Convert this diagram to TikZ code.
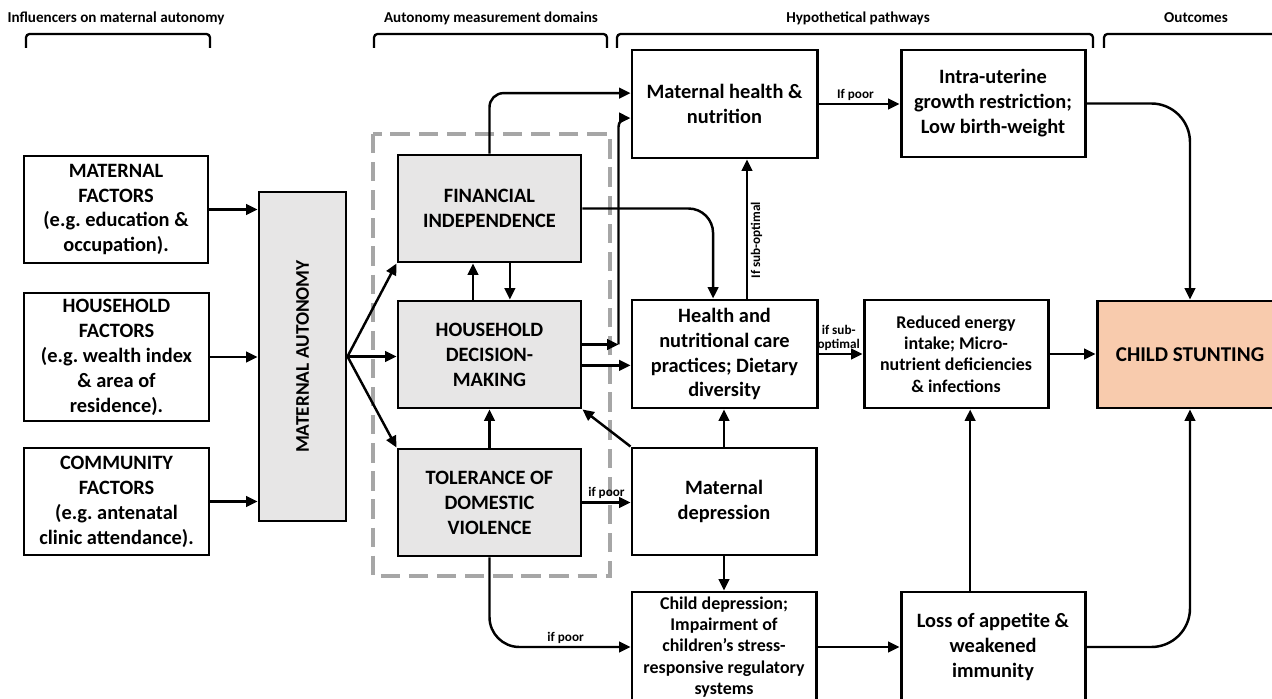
\documentclass[tikz,border=0pt]{standalone}
\usepackage{fontspec}
\setmainfont{Carlito}
\usetikzlibrary{arrows.meta}
\frenchspacing

\definecolor{domaingrey}{HTML}{E7E6E6}
\definecolor{dashgrey}{HTML}{A6A6A6}
\definecolor{stuntorange}{HTML}{F8CBAD}

\tikzset{
  boxsize/.style 2 args={minimum width=#1*0.02cm, minimum height=#2*0.02cm},
  box/.style={draw, line width=1.7pt, align=center, inner sep=0pt,
    font=\bfseries\fontsize{11.6}{14.2}\selectfont},
  smallbox/.style={box, font=\bfseries\fontsize{10.2}{12.2}\selectfont},
  domainbox/.style={box, fill=domaingrey},
  link/.style={line width=1.4pt, -{Triangle[length=6.5pt,width=6pt]}},
  cond/.style={font=\bfseries\fontsize{7.5}{8.5}\selectfont, inner sep=1.5pt, align=center},
  heading/.style={font=\bfseries\fontsize{8.6}{10}\selectfont},
  brace/.style={line width=1.3pt, rounded corners=2pt},
  group/.style={draw=dashgrey, line width=2.4pt, dash pattern=on 11pt off 5pt}
}

\begin{document}
\begin{tikzpicture}[x=0.02cm, y=-0.02cm]

        \useasboundingbox (0,0) rectangle (1272,699);
        \clip (0,0) rectangle (1272,699);

        \node[heading] (hinf) at (116,18) {Influencers on maternal autonomy};
        \node[heading] (hdom) at (491,18) {Autonomy measurement domains};
        \node[heading] (hpath) at (858,18) {Hypothetical pathways};
        \node[heading] (hout) at (1196,18) {Outcomes};

        \draw[brace] (26,48) -- (26,34) -- (210,34) -- (210,48);
        \draw[brace] (374,48) -- (374,34) -- (607,34) -- (607,48);
        \draw[brace] (617,48) -- (617,34) -- (1093,34) -- (1093,48);
        \draw[brace] (1104,48) -- (1104,34) -- (1290,34);

        \draw[group] (373,134) rectangle (610,576);

        \node[box, boxsize={184}{107}] (matf) at (116,209.5) {MATERNAL\\FACTORS\\(e.g. education \&\\occupation).};
        \node[box, boxsize={185}{128}] (hhf) at (116.5,357) {HOUSEHOLD\\FACTORS\\(e.g. wealth index\\\& area of\\residence).};
        \node[box, boxsize={185}{107}] (comf) at (116.5,501.5) {COMMUNITY\\FACTORS\\(e.g. antenatal\\clinic attendance).};
        \node[domainbox, boxsize={87}{329}, font=\bfseries\fontsize{11}{13}\selectfont] (ma) at (302.5,356.5) {\rotatebox{90}{MATERNAL AUTONOMY}};

        \node[domainbox, boxsize={183}{107}] (fi) at (489.5,208.5) {FINANCIAL\\INDEPENDENCE};
        \node[domainbox, boxsize={183}{107}] (hd) at (489.5,354.5) {HOUSEHOLD\\DECISION-\\MAKING};
        \node[domainbox, boxsize={183}{107}] (tv) at (489.5,502.5) {TOLERANCE OF\\DOMESTIC\\VIOLENCE};

        \node[box, boxsize={185}{108}] (mh) at (724.5,104) {Maternal health \&\\nutrition};
        \node[box, boxsize={184}{107}] (iu) at (993,103.5) {Intra-uterine\\growth restriction;\\Low birth-weight};
        \node[box, boxsize={185}{108}] (hn) at (724.5,354) {Health and\\nutritional care\\practices; Dietary\\diversity};
        \node[smallbox, boxsize={184}{108}] (re) at (956,354) {Reduced energy\\intake; Micro-\\nutrient deficiencies\\\& infections};
        \node[box, boxsize={186}{107}, fill=stuntorange, font=\bfseries\fontsize{12}{14}\selectfont] (cs) at (1190,354.5) {CHILD STUNTING};
        \node[box, boxsize={184}{107}] (md) at (724,501.5) {Maternal\\depression};
        \node[smallbox, boxsize={184}{110}] (cd) at (724,647) {Child depression;\\Impairment of\\children’s stress-\\responsive regulatory\\systems};
        \node[box, boxsize={184}{110}] (la) at (993,647) {Loss of appetite \&\\weakened\\immunity};

        \draw[link] (matf.east) -- (matf.east -| ma.west);
        \draw[link] (hhf.east) -- (hhf.east -| ma.west);
        \draw[link] (comf.east) -- (comf.east -| ma.west);
        \draw[link] (ma.east) -- (fi.south west);
        \draw[link] (ma.east) -- (ma.east -| hd.west);
        \draw[link] (ma.east) -- (tv.north west);

        \draw[link, rounded corners=8pt] (fi.north) |- ([yshift=6.2pt]mh.west);
        \draw[link, rounded corners=14pt] (fi.east) -| ([xshift=-6.5pt]hn.north);
        \coordinate (hdturn) at ([shift={(36,-10)}]hd.east);
        \draw[link] (hdturn -| hd.east) -- (hdturn);
        \draw[link, rounded corners=5pt] (hdturn) |- ([yshift=-8pt]mh.west);
        \draw[link] ([yshift=-6.2pt]hd.east) -- ([yshift=-6.2pt]hd.east -| hn.west);
        \draw[link] ([xshift=-9.4pt]hd.north) -- ([xshift=-9.4pt]fi.south);
        \draw[link] ([xshift=11.6pt]fi.south) -- ([xshift=11.6pt]hd.north);
        \draw[link] (tv.north) -- (hd.south);
        \draw[link] (md.north west) -- (hd.south east);
        \draw[link] (tv.east) -- node[cond, above] {if poor} (tv.east -| md.west);
        \draw[link, rounded corners=17pt] (tv.south) |- node[cond, above, pos=0.77] {if poor} (cd.west);

        \draw[link] (md.north) -- (md.north |- hn.south);
        \draw[link] (md.south) -- (md.south |- cd.north);
        \draw[link] ([xshift=12.8pt]hn.north) -- node[cond, anchor=north, rotate=90, pos=0.42] {If sub-optimal} ([xshift=12.8pt]hn.north |- mh.south);
        \draw[link] (mh.east) -- node[cond, above, xshift=-2pt] {If poor} (mh.east -| iu.west);
        \draw[link] (hn.east) -- node[cond, above, inner sep=1pt, xshift=-1pt] {if sub-\\optimal} (hn.east -| re.west);
        \draw[link] (re.east) -- (re.east -| cs.west);
        \draw[link, rounded corners=22pt] (iu.east) -| (cs.north);
        \draw[link] (cd.east) -- (cd.east -| la.west);
        \draw[link] ([xshift=-13pt]la.north) -- ([xshift=-13pt]la.north |- re.south);
        \draw[link, rounded corners=22pt] (la.east) -| (cs.south);

\end{tikzpicture}
\end{document}
